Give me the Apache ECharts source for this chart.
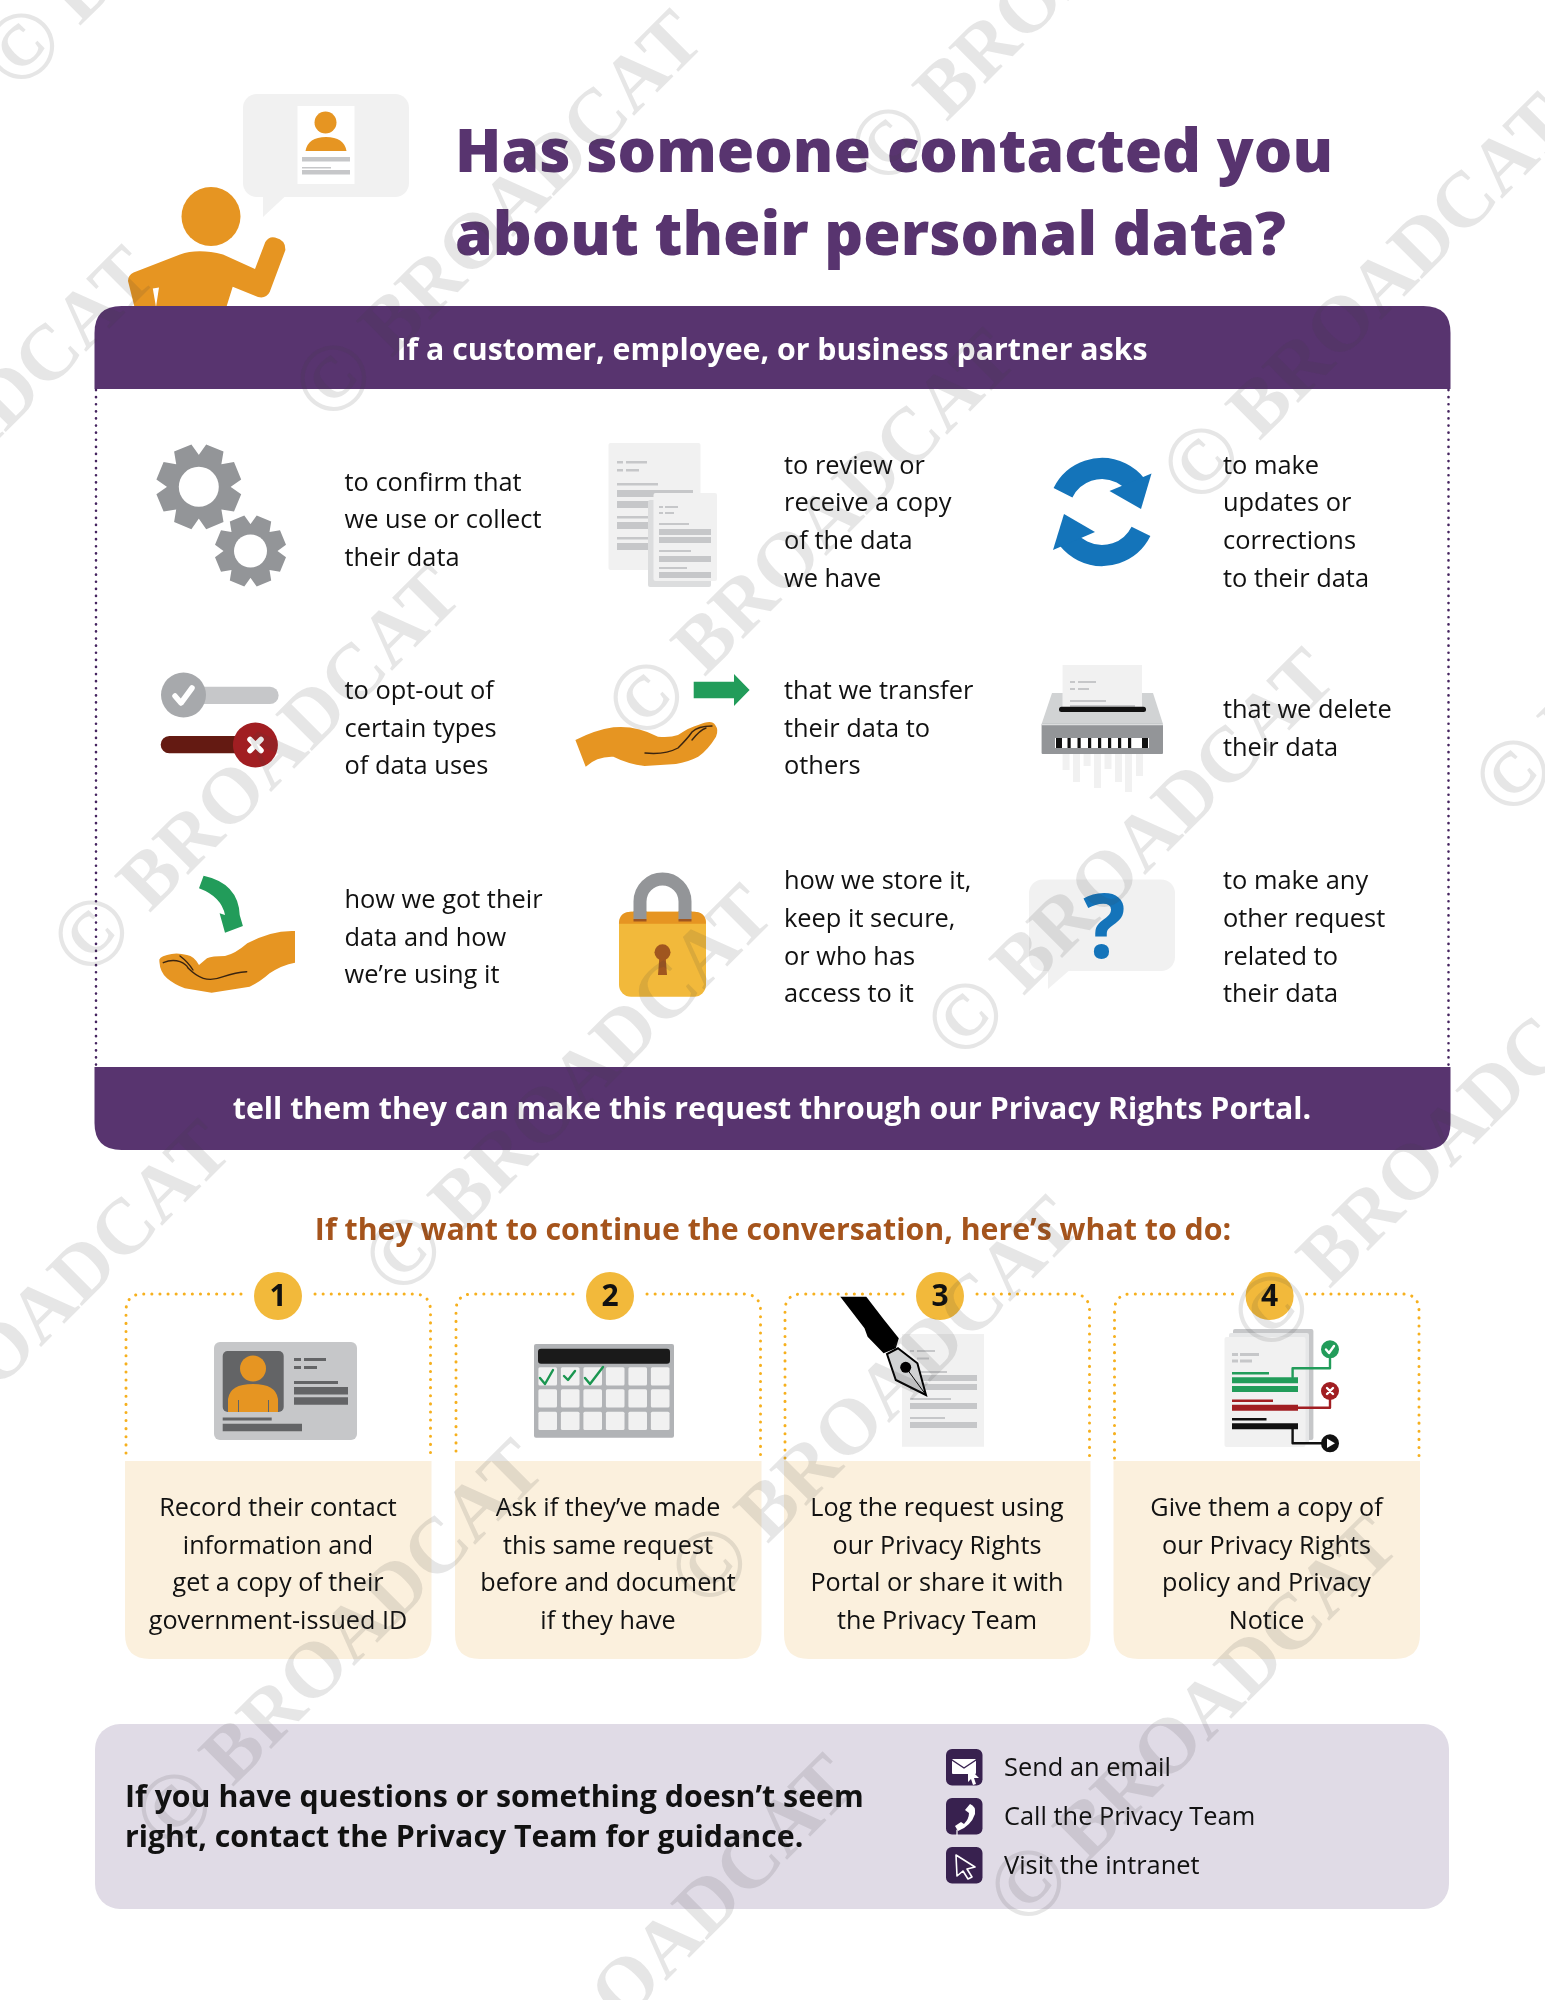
<!DOCTYPE html>
<html>
<head>
    <meta charset="utf-8">
    <title>Privacy request</title>
    <script src="https://cdn.jsdelivr.net/npm/echarts@6/dist/echarts.min.js"></script>
    <style>body{margin:0;background:#fff}</style>
</head>
<body>
<div id="main" style="width:1545px;height:2000px;"></div>
<script type="text/javascript">
// texts of the sheet
const titleLines = ['Has someone contacted you', 'about their personal data?'];
const headerText = 'If a customer, employee, or business partner asks';
const footerText = 'tell them they can make this request through our Privacy Rights Portal.';
const askItems = [
    ['to confirm that', 'we use or collect', 'their data'],
    ['to review or', 'receive a copy', 'of the data', 'we have'],
    ['to make', 'updates or', 'corrections', 'to their data'],
    ['to opt-out of', 'certain types', 'of data uses'],
    ['that we transfer', 'their data to', 'others'],
    ['that we delete', 'their data'],
    ['how we got their', 'data and how', 'we\u2019re using it'],
    ['how we store it,', 'keep it secure,', 'or who has', 'access to it'],
    ['to make any', 'other request', 'related to', 'their data']
];
const stepsTitle = 'If they want to continue the conversation, here\u2019s what to do:';
const stepNumbers = ['1', '2', '3', '4'];
const stepTexts = [
    ['Record their contact', 'information and', 'get a copy of their', 'government-issued ID'],
    ['Ask if they\u2019ve made', 'this same request', 'before and document', 'if they have'],
    ['Log the request using', 'our Privacy Rights', 'Portal or share it with', 'the Privacy Team'],
    ['Give them a copy of', 'our Privacy Rights', 'policy and Privacy', 'Notice']
];
const contactLead = ['If you have questions or something doesn\u2019t seem', 'right, contact the Privacy Team for guidance.'];
const contactItems = ['Send an email', 'Call the Privacy Team', 'Visit the intranet'];
const watermarkMark = '\u00A9', watermarkText = 'BROADCAT';

const PURPLE = '#58346f', ORANGE = '#e69522', YELLOW = '#f2b93b', GREY = '#939598', LIGHT = '#f1f1f1',
    LINE = '#c6c7c9', GREEN = '#229c5a', RED = '#a11e22', BLUE = '#1474ba', INK = '#111111';
const FONT = '"Open Sans", "Noto Sans", sans-serif';

const els = [];
function rect(x, y, w, h, fill, r) {
    els.push({type: 'rect', shape: {x: x, y: y, width: w, height: h, r: r || 0}, style: {fill: fill}});
}
function circle(cx, cy, r, fill) {
    els.push({type: 'circle', shape: {cx: cx, cy: cy, r: r}, style: {fill: fill}});
}
function poly(points, fill) {
    els.push({type: 'polygon', shape: {points: points}, style: {fill: fill}});
}
function path(d, fill, stroke, width, dash) {
    els.push({type: 'path', shape: {pathData: d}, style: {
        fill: fill || 'none', stroke: stroke || 'none', lineWidth: width || 0,
        lineDash: dash || null, lineCap: 'round', lineJoin: 'round'
    }});
}
function label(lines, x, y, size, color, weight, align, lineHeight) {
    els.push({type: 'text', style: {
        text: lines.join('\n'), x: x, y: y, fontSize: size, fontFamily: FONT, fontWeight: weight || 400,
        fill: color, align: align || 'left', verticalAlign: 'middle', lineHeight: lineHeight || size * 1.3
    }});
}
function gear(cx, cy, R, rIn, hole) {
    let d = '';
    for (let i = 0; i < 8; i++) {
        const a = (i + 0.5) * Math.PI / 4;
        [[rIn, -0.39], [R, -0.22], [R, 0.22], [rIn, 0.39]].forEach(function (p) {
            d += (d ? 'L' : 'M') + (cx + p[0] * Math.cos(a + p[1])).toFixed(1) + ' ' + (cy + p[0] * Math.sin(a + p[1])).toFixed(1);
        });
    }
    path(d + 'Z', GREY);
    circle(cx, cy, hole, '#fff');
}

// person and speech bubble
rect(243, 94, 166, 103, LIGHT, 14);
poly([[263, 190], [263, 217], [292, 190]], LIGHT);
rect(297.5, 106, 57, 78, '#fff');
circle(325.5, 122.5, 11, ORANGE);
path('M305.5 151Q308 137 326 137Q344 137 346.5 151Z', ORANGE);
rect(302, 157, 48, 4.5, LINE);
rect(302, 167, 29, 1.5, LINE);
rect(302, 170, 48, 4.5, LINE);
circle(211, 216.5, 29.5, ORANGE);
path('M133.6 272.5L180 254.6Q198 248 223 254.6L255 269L265.3 242Q269 236 275 237.5Q286 240 285.4 250L269.7 292Q266 299 258 297L232.7 286.8L226.4 307L134.5 307L128 281Q128 275 133.6 272.5Z', ORANGE);
poly([[152.8, 288.6], [159, 287.5], [156, 307]], '#fff');

// title
label(titleLines, 455, 196, 60.6, PURPLE, 800, 'left', 83.5);

// purple frame
path('M94.5 389L94.5 333Q94.5 306 121.5 306L1423.5 306Q1450.5 306 1450.5 333L1450.5 389Z', PURPLE);
label([headerText], 772, 351, 30.3, '#fff', 700, 'center');
path('M96 390L96 1067', null, '#45245f', 2.6, [0.1, 7]);
path('M1448.5 390L1448.5 1067', null, '#45245f', 2.6, [0.1, 7]);
path('M94.5 1067L1450.5 1067L1450.5 1123Q1450.5 1150 1423.5 1150L121.5 1150Q94.5 1150 94.5 1123Z', PURPLE);
label([footerText], 772, 1110, 30.3, '#fff', 700, 'center');

// ask items, three by three
const askX = [344.5, 784, 1223], askY = [521, 729.5, 938.5];
askItems.forEach(function (lines, i) {
    const y = askY[Math.floor(i / 3)] + (i === 1 || i === 2 ? 2 : 0);
    label(lines, askX[i % 3], y, 25.4, INK, 400, 'left', 37.7);
});

// gears
gear(198.8, 486.8, 43, 32, 20);
gear(250.5, 551, 36, 27, 16.5);

// documents
rect(608.5, 443, 92, 127, LIGHT, 2);
rect(617, 461, 6, 2.5, LINE); rect(626, 461, 21, 2.5, LINE);
rect(617, 469, 6, 2.5, LINE); rect(626, 469, 13, 2.5, LINE);
rect(617, 483, 41, 2.5, LINE);
rect(617, 490, 76, 7, LINE); rect(617, 501, 40, 7, LINE);
rect(617, 516, 40, 2.5, LINE); rect(617, 522, 40, 7, LINE);
rect(617, 537, 40, 2.5, LINE); rect(617, 543, 40, 7, LINE);
rect(648, 500, 63, 87, '#dcddde', 2);
rect(653.5, 493, 63.5, 88, LIGHT, 2);
rect(659, 506, 4, 2, LINE); rect(665, 506, 13, 2, LINE);
rect(659, 512, 4, 2, LINE); rect(665, 512, 9, 2, LINE);
rect(659, 523, 30, 2, LINE); rect(659, 529, 52, 6, LINE); rect(659, 537, 52, 6, LINE);
rect(659, 550, 32, 2, LINE); rect(659, 556, 52, 6, LINE);
rect(659, 567, 28, 2, LINE); rect(659, 572, 52, 6, LINE);

// refresh arrows
els.push({type: 'arc', shape: {cx: 1102, cy: 512, r: 43.5, startAngle: 3.6, endAngle: 5.6, clockwise: true},
    style: {fill: 'none', stroke: BLUE, lineWidth: 21}});
els.push({type: 'arc', shape: {cx: 1102, cy: 512, r: 43.5, startAngle: 0.46, endAngle: 2.46, clockwise: true},
    style: {fill: 'none', stroke: BLUE, lineWidth: 21}});
poly([[1109.5, 491], [1151.5, 473.5], [1141, 509]], BLUE);
poly([[1095, 532], [1053, 550], [1064, 514]], BLUE);

// opt-out toggles
rect(183, 686.7, 95.6, 17.3, LINE, 8.6);
circle(183.5, 695, 22.5, '#a7a9ac');
path('M175 696L181 703L192 688', null, '#fff', 5.5);
rect(160.7, 736, 85, 17.3, '#641a12', 8.6);
circle(255.4, 745, 22.5, RED);
path('M250 739.5L261 750.5M261 739.5L250 750.5', null, '#fff', 5.5);

// giving hand, transfer arrow
poly([[693.7, 681.7], [734, 681.7], [734, 674], [749.6, 690], [734, 706], [734, 698.3], [693.7, 698.3]], GREEN);
path('M575.4 740Q595 730 613.4 727.3Q636 725 658 736.7Q670 738 678 735Q690 727 698.2 725Q712 719 715.2 725Q719 730 716 736.7Q708 750 698.2 756.7Q688 762 675.9 764L644.6 766Q628 764 613.4 756.7Q597 756 585.7 766.7Z', ORANGE);
path('M645 753Q665 755 678 748Q688 738 692 732Q698 726 712 726M692 740Q700 730 706 728', null, '#3a2410', 1.4);

// receiving hand, curved arrow
path('M203.6 875.7Q238.4 883.3 239.7 915L242.9 926L225 932.7L219.6 913.3L225 915Q221.4 896.7 199 888.3Z', GREEN);
path('M295 931Q272 930 247.3 943.3Q235 954 225 956Q212 956 207 958.3L199 965Q194 956 187 955Q176 952 167 955Q158 957 159.4 961.7Q160 972 167 978.3Q175 985 184.8 988.3L211.6 992.7L249.6 986.7Q260 982 269.6 973.3Q282 965 295 962.7Z', ORANGE);
path('M163.3 962.7Q172 959 180 961.7Q186 964 188.3 968.3Q196 976 203.3 978.3Q212 981 223.3 976.7Q236 972 246.7 971.7M180 956Q188 962 193 970', null, '#3a2410', 1.4);

// padlock
path('M640 918L640 901.5A22.5 22.5 0 0 1 685 901.5L685 918', null, GREY, 13);
rect(619, 911.7, 87, 85, YELLOW, 12);
path('M619 923.7Q619 911.7 631 911.7L694 911.7Q706 911.7 706 923.7Z', ORANGE);
rect(633.5, 911, 13, 9, GREY); rect(678.5, 911, 13, 9, GREY);
rect(633.5, 919, 13, 2.5, '#a0561f'); rect(678.5, 919, 13, 2.5, '#a0561f');
circle(662.5, 952.3, 8, '#a0561f');
poly([[659.5, 955], [665.5, 955], [667, 975], [658, 975]], '#a0561f');

// shredder
rect(1062.6, 665, 79.4, 48, LIGHT);
rect(1070, 681, 5, 2, LINE); rect(1078, 681, 18, 2, LINE);
rect(1070, 688, 5, 2, LINE); rect(1078, 688, 11, 2, LINE);
rect(1070, 700, 36, 2, LINE); rect(1070, 705, 65, 3, LINE);
poly([[1052, 693], [1062.6, 693], [1062.6, 708], [1142, 708], [1142, 693], [1153, 693], [1163, 724], [1041.6, 724]], '#d1d3d4');
rect(1059, 706.7, 87, 5.3, '#111', 2.5);
[[1062.6, 16], [1073, 28], [1083.6, 12], [1094, 34], [1104.5, 15], [1115, 28], [1125, 38], [1136, 22]].forEach(function (s) {
    rect(s[0], 754, 7, s[1], LIGHT);
});
rect(1041.6, 723.7, 121.4, 30.3, GREY, 1);
rect(1041.6, 723.7, 121.4, 1.5, '#dcddde');
rect(1055, 738, 94, 10, '#fff');
[1056, 1067.5, 1077.5, 1088, 1098, 1108, 1118, 1128, 1142].forEach(function (x, i) {
    rect(x, 738, (i === 0 || i === 8) ? 6 : 3.2, 10, '#111');
});

// question bubble
rect(1029, 879.5, 146, 91.5, LIGHT, 14);
poly([[1048, 968], [1048, 989], [1072, 968]], LIGHT);
label(['?'], 1104.5, 933, 89, BLUE, 700, 'center');

// steps
label([stepsTitle], 773, 1231, 30.3, '#a5541c', 700, 'center');
const stepLeft = [125, 455, 784, 1113.5], stepCircle = [278, 610, 940, 1269.6];
stepTexts.forEach(function (lines, i) {
    const l = stepLeft[i], r = l + 306.5, c = stepCircle[i];
    path('M' + l + ' 1659L' + l + ' 1461L' + r + ' 1461L' + r + ' 1634Q' + r + ' 1659 ' + (r - 25) + ' 1659L' + (l + 25) + ' 1659Q' + l + ' 1659 ' + l + ' 1634Z', '#fbf0dd');
    path('M' + (c - 37) + ' 1294L' + (l + 18) + ' 1294Q' + (l + 1) + ' 1294 ' + (l + 1) + ' 1311L' + (l + 1) + ' 1458', null, '#f6b01e', 3, [0.1, 8]);
    path('M' + (c + 37) + ' 1294L' + (r - 18) + ' 1294Q' + (r - 1) + ' 1294 ' + (r - 1) + ' 1311L' + (r - 1) + ' 1458', null, '#f6b01e', 3, [0.1, 8]);
    label(lines, l + 153, 1565.5, 25.2, INK, 400, 'center', 37.5);
});

// id card
rect(214, 1342, 143, 98, LINE, 6);
rect(222.7, 1351, 61, 61, '#636466', 5);
circle(253, 1368.5, 13, ORANGE);
path('M228 1412L228 1399Q230 1384 253 1384Q276 1384 278 1399L278 1412Z', ORANGE);
rect(238, 1400, 1, 12, '#636466'); rect(268, 1400, 1, 12, '#636466');
rect(294, 1358, 7, 3, '#636466'); rect(304, 1358, 22, 3, '#636466');
rect(294, 1366, 7, 3, '#636466'); rect(304, 1366, 13, 3, '#636466');
rect(294, 1381, 44, 3, '#636466'); rect(294, 1387, 54, 7.5, '#636466'); rect(294, 1397.3, 54, 7.5, '#636466');
rect(222.7, 1417.5, 49, 3, '#636466'); rect(222.7, 1423.7, 79.3, 7.6, '#636466');

// calendar
rect(534, 1344, 140, 93.7, '#b1b3b6', 2);
rect(538, 1348.7, 132, 15, '#1a1a1a', 3);
[1367.3, 1389.3, 1411.7].forEach(function (y) {
    for (let i = 0; i < 6; i++) rect(538.4 + 22.5 * i, y, 18.6, 18.3, LIGHT, 1.5);
});
path('M540 1378L545 1384L553 1370M564 1376L568 1380L575 1371M585 1378L590 1384L603 1367', null, '#1a9650', 2.4);

// pen on a document
rect(902, 1334, 82, 112.7, LIGHT);
rect(910, 1350, 4, 2, LINE); rect(917, 1350, 18, 2, LINE);
rect(917, 1357.5, 12, 2, LINE);
rect(910, 1371, 37, 2, LINE); rect(910, 1375, 67, 6, LINE); rect(910, 1384, 67, 6, LINE);
rect(910, 1398, 41, 2, LINE); rect(910, 1403, 67, 6, LINE);
rect(910, 1417, 35, 2, LINE); rect(910, 1422, 67, 6, LINE);
poly([[840.3, 1296.7], [866.3, 1296.7], [883.6, 1319.3], [898.8, 1338.3], [895.8, 1348.3], [883.6, 1353.3], [867.6, 1336.7], [864.5, 1328.3]], '#000');
els.push({type: 'polygon', shape: {points: [[898, 1348.3], [917.4, 1363.3], [926, 1395], [895.8, 1380], [887, 1354]]},
    style: {fill: '#d1d3d4', stroke: '#000', lineWidth: 2}});
circle(905.7, 1367.3, 5.5, '#000');
path('M905.7 1367.3L926 1395', null, '#000', 1);

// policy document with outcomes
rect(1233, 1329, 80.4, 111, LINE, 2);
rect(1229, 1333, 80, 111, '#e6e7e8', 2);
rect(1224.5, 1337, 81, 110, LIGHT, 2);
rect(1232, 1353, 6, 3, LINE); rect(1240, 1353, 19, 3, LINE);
rect(1232, 1359.5, 6, 3, LINE); rect(1240, 1359.5, 12, 3, LINE);
rect(1232, 1372, 37, 2.4, GREEN); rect(1232, 1377.3, 66, 6, GREEN); rect(1232, 1386, 66, 6, GREEN);
rect(1232, 1399.5, 41, 2.4, RED); rect(1232, 1404.7, 66, 6, RED);
rect(1232, 1418, 34.5, 2.4, '#111'); rect(1232, 1423.3, 66, 6, '#111');
path('M1292.6 1377L1292.6 1368.3L1330 1368.3L1330 1352', null, GREEN, 2.4);
path('M1298 1407.7L1330 1407.7L1330 1395', null, RED, 2.4);
path('M1292.6 1429L1292.6 1443.3L1325 1443.3', null, '#111', 2.4);
circle(1330, 1349.3, 9, GREEN);
path('M1326 1349.5L1329 1353L1334 1346', null, '#fff', 2.4);
circle(1330, 1391, 9, RED);
path('M1327 1388L1333 1394M1333 1388L1327 1394', null, '#fff', 2.4);
circle(1330, 1443.3, 9, '#111');
poly([[1327, 1438.5], [1335, 1443.3], [1327, 1448]], '#fff');

// numbered badges go above the icons
stepNumbers.forEach(function (n, i) {
    circle(stepCircle[i], 1296, 24, YELLOW);
    label([n], stepCircle[i], 1297.5, 30, '#111', 700, 'center');
});

// contact panel
rect(95, 1724, 1354, 185, '#e0dbe6', 25);
label(contactLead, 125, 1818.5, 30.3, INK, 700, 'left', 39.7);
const ICON = '#38214f';
[1749, 1798, 1847].forEach(function (y, i) {
    rect(946, y, 36.5, 36.5, ICON, 6);
    label([contactItems[i]], 1004, y + 20, 25.4, INK, 400, 'left');
});
rect(952, 1759, 24, 15, '#fff', 1);
path('M952 1760L964 1768L976 1760', null, ICON, 1.5);
poly([[968, 1767], [979, 1778], [974, 1778], [976, 1784], [973, 1785], [971, 1779], [968, 1782]], '#fff');
path('M970 1804Q976 1806 975 1814Q971 1826 958 1831L955 1826L961 1822L964 1824Q969 1819 969 1813L965 1810Z', '#fff');
path('M957 1830L957 1835', null, '#fff', 1.2);
path('M956 1855L975 1867L967 1869L972 1877L968 1879L963 1871L957 1876Z', null, '#fff', 1.6);

// watermark, on top of everything
const watermarkAt = [[26, 51], [338, 383], [893, 147], [1206, 466], [-210, 619], [96, 938], [651, 702], [1518, 778],
    [970, 1021], [-134, 1493], [408, 1257], [1276, 1314], [714, 1569], [179, 1812], [1033, 1888], [491, 2127]];
function watermark(text, x, y, size) {
    els.push({type: 'text', x: x, y: y, rotation: Math.PI / 4, style: {
        text: text, fontSize: size, fontWeight: 700, fontFamily: '"Liberation Serif", serif', fill: 'rgba(60,60,60,0.13)',
        align: 'left', verticalAlign: 'middle'
    }});
}
watermarkAt.forEach(function (p) {
    watermark(watermarkMark, p[0] - 26, p[1] + 26, 97);
    watermark(watermarkText, p[0] + 39, p[1] - 39, 79);
});

var myChart = echarts.init(document.getElementById('main'));
myChart.setOption({
    animation: false,
    backgroundColor: '#fff',
    series: [{
        type: 'custom',
        coordinateSystem: 'none',
        silent: true,
        data: [0],
        renderItem: function () {
            return {type: 'group', children: els};
        }
    }]
});
</script>
</body>
</html>
